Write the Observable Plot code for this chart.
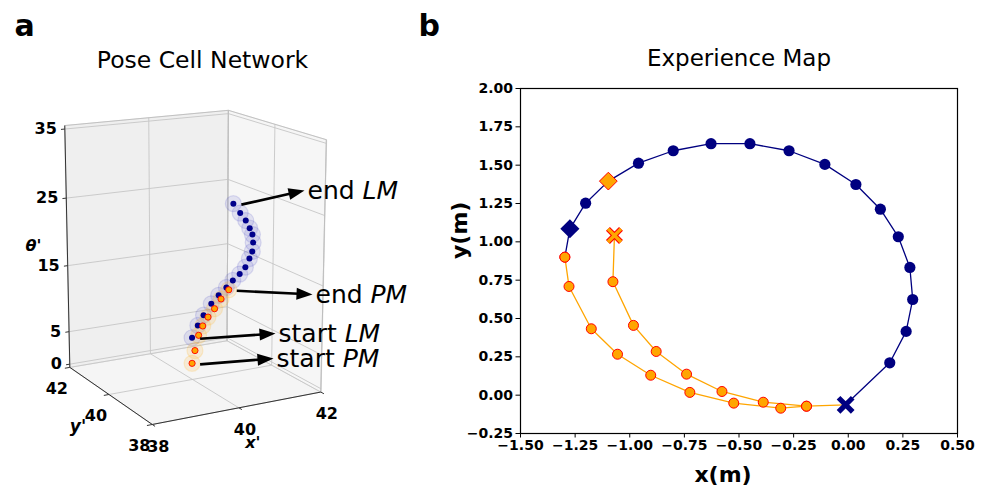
<!DOCTYPE html>
<html><head><meta charset="utf-8">
<script src="https://cdn.jsdelivr.net/npm/d3@7"></script>
<script src="https://cdn.jsdelivr.net/npm/@observablehq/plot@0.6"></script>
<style>
body{margin:0;background:#fff;font-family:"DejaVu Sans",sans-serif;}
#wrap{position:relative;width:988px;height:486px;overflow:hidden;}
#pa,#pb{position:absolute;top:0;}
#pa{left:0}
#pb{left:412px}
</style></head><body><div id="wrap"><div id="pa"></div><div id="pb"></div></div>
<script>
// ---------- Panel a: pose cell network (3D) ----------
const lmXp = [39.99, 40.13, 40.27, 40.46, 40.64, 40.83, 40.99, 41.16, 41.30, 41.40, 41.47, 41.49, 41.47, 41.40, 41.30, 41.16, 40.99];
const lmYp = [40, 40, 40, 40, 40, 40, 40, 40, 40, 40, 40, 40, 40, 40, 40, 40, 40];
const lmTh = [5.8, 7.5, 8.9, 10.4, 11.5, 12.5, 13.4, 14.2, 15.1, 16.3, 17.3, 18.6, 19.8, 20.8, 22.0, 23.2, 24.7];
const pmXp = [39.99, 40.06, 40.15, 40.25, 40.38, 40.54, 40.70, 40.89];
const pmYp = [40, 40, 40, 40, 40, 40, 40, 40];
const pmTh = [1.95, 3.8, 6.0, 7.3, 8.5, 9.6, 10.9, 12.1];
const xyTicks3d = [38, 40, 42];
const thTicks3d = [0, 5, 15, 25, 35];
const box = {x: [38, 42], y: [38, 42], z: [-0.5, 35.5]};
const annText = ["end ", "end ", "start ", "start "];
const annItal = ["LM", "PM", "LM", "PM"];

// ---------- Panel b: experience map ----------
const lmPathX = [-0.012, 0.190, 0.265, 0.295, 0.282, 0.229, 0.147, 0.035, -0.107, -0.271, -0.450, -0.628, -0.801, -0.960, -1.098, -1.202, -1.274, -1.297];
const lmPathY = [-0.063, 0.211, 0.416, 0.624, 0.833, 1.033, 1.213, 1.374, 1.505, 1.594, 1.640, 1.640, 1.594, 1.513, 1.396, 1.252, 1.085, 0.900];
const lmKind = ["start", "node", "node", "node", "node", "node", "node", "node", "node", "node", "node", "node", "node", "node", "pmMark", "node", "end", "pmNode"];
const pmOuterX = [-0.012, -0.191, -0.309, -0.524, -0.725, -0.904, -1.056, -1.176, -1.278, -1.297];
const pmOuterY = [-0.063, -0.072, -0.085, -0.052, 0.018, 0.130, 0.267, 0.433, 0.709, 0.900];
const pmInnerX = [-1.070, -1.077, -0.983, -0.879, -0.740, -0.578, -0.389, -0.191];
const pmInnerY = [1.042, 0.740, 0.455, 0.285, 0.137, 0.024, -0.046, -0.072];
const xTicks = [-1.5, -1.25, -1.0, -0.75, -0.5, -0.25, 0.0, 0.25, 0.5];
const yTicks = [-0.25, 0.0, 0.25, 0.5, 0.75, 1.0, 1.25, 1.5, 1.75, 2.0];

// ---------- 3D projection ----------
const view = {azim: -118.5, elev: 15, sxy: 47.2, sz: 7.1, cx: 192, cy: 258, dist: 1600};
function proj(X, Y, Z) {
  const a = view.azim * Math.PI / 180, e = view.elev * Math.PI / 180;
  const xc = (box.x[0] + box.x[1]) / 2, yc = (box.y[0] + box.y[1]) / 2, zc = (box.z[0] + box.z[1]) / 2;
  const wx = (X - xc) * view.sxy, wy = (Y - yc) * view.sxy, wz = (Z - zc) * view.sz;
  const R = -Math.sin(a) * wx + Math.cos(a) * wy;
  const H = -(Math.cos(a) * wx + Math.sin(a) * wy);
  const U = wz * Math.cos(e) + H * Math.sin(e);
  const D = H * Math.cos(e) - wz * Math.sin(e);
  const f = view.dist / (view.dist + D);
  return [view.cx + R * f, view.cy - U * f];
}
const [x0, x1] = box.x, [y0, y1] = box.y, [z0, z1] = box.z;
const panes = [];
function addPane(name, fill, pts) { pts.forEach((p, i) => { const [px, py] = proj(...p); panes.push({name, fill, i, px, py}); }); }
addPane("floor", "#f5f5f5", [[x0, y0, z0], [x1, y0, z0], [x1, y1, z0], [x0, y1, z0]]);
addPane("wallY", "#efefef", [[x0, y1, z0], [x1, y1, z0], [x1, y1, z1], [x0, y1, z1]]);
addPane("wallX", "#f6f6f6", [[x1, y0, z0], [x1, y1, z0], [x1, y1, z1], [x1, y0, z1]]);

function seg(p, q) { const a = proj(...p), b = proj(...q); return {x1: a[0], y1: a[1], x2: b[0], y2: b[1]}; }
const grid = [];
xyTicks3d.forEach(t => {
  grid.push(seg([t, y0, z0], [t, y1, z0]));
  grid.push(seg([t, y1, z0], [t, y1, z1]));
  grid.push(seg([x0, t, z0], [x1, t, z0]));
  grid.push(seg([x1, t, z0], [x1, t, z1]));
});
thTicks3d.forEach(t => {
  grid.push(seg([x0, y1, t], [x1, y1, t]));
  grid.push(seg([x1, y0, t], [x1, y1, t]));
});
const edges = [
  seg([x0, y1, z1], [x1, y1, z1]), seg([x1, y1, z1], [x1, y0, z1]), seg([x1, y0, z0], [x1, y0, z1]),
  seg([x1, y1, z0], [x1, y1, z1])
];
const axes3 = [
  seg([x0, y1, z0], [x0, y1, z1]), seg([x0, y0, z0], [x0, y1, z0]), seg([x0, y0, z0], [x1, y0, z0])
];
const ticks3 = [];
thTicks3d.forEach(t => ticks3.push(seg([x0, y1, t], [x0 - 0.09, y1, t])));
xyTicks3d.forEach(t => { ticks3.push(seg([t, y0, z0], [t, y0 - 0.12, z0])); ticks3.push(seg([x0, t, z0], [x0 - 0.12, t, z0])); });

const thLabels = thTicks3d.map(t => { const [px, py] = proj(x0, y1, t); return {px: px - 8, py, t}; });
const yLabels = xyTicks3d.map(t => { const [px, py] = proj(x0, t, z0); return {px: px - 13, py: py + 21, t}; });
const xLabels = xyTicks3d.map(t => { const [px, py] = proj(t, y0, z0); return {px: px + 6, py: py + 22, t}; });
const midZ = proj(x0, y1, (z0 + z1) / 2), midY = proj(x0, (y0 + y1) / 2, z0), midX = proj((x0 + x1) / 2, y0, z0);

const lm3 = lmXp.map((v, i) => { const [px, py] = proj(v, lmYp[i], lmTh[i]); return {px, py}; });
const pm3 = pmXp.map((v, i) => { const [px, py] = proj(v, pmYp[i], pmTh[i]); return {px, py}; });

// annotations: text anchors (layout) and arrow tails from the data points
const annPos = [[307, 190], [315, 294], [278, 333], [276, 358]];
const annPts = [lm3[lm3.length - 1], pm3[pm3.length - 1], lm3[0], pm3[0]];
const headLen = 16;
const arrowHead = {draw(c) { c.moveTo(0, 0); c.lineTo(-6, headLen); c.lineTo(6, headLen); c.closePath(); }};
const arrows = annPos.map(([tx, ty], i) => {
  const sx = annPts[i].px + 8, sy = annPts[i].py + 1;
  const ex = tx - 3, ey = ty;
  const L = Math.hypot(ex - sx, ey - sy), ux = (ex - sx) / L, uy = (ey - sy) / L;
  return {sx, sy, bx: ex - ux * (headLen - 2), by: ey - uy * (headLen - 2), hx: ex, hy: ey,
          rot: Math.atan2(uy, ux) * 180 / Math.PI + 90};
});
const annSize = 25;
const ctx = document.createElement("canvas").getContext("2d");
ctx.font = annSize + "px 'DejaVu Sans'";
const ann = annPos.map(([tx, ty], i) => ({tx, ty, a: annText[i], b: annItal[i], w: ctx.measureText(annText[i]).width}));

const pa = Plot.plot({
  width: 412, height: 486, margin: 0,
  x: {type: "identity", axis: null}, y: {type: "identity", axis: null},
  style: {fontFamily: "DejaVu Sans", background: "white", color: "black"},
  marks: [
    Plot.line(panes, {x: "px", y: "py", z: "name", fill: "fill", stroke: "#e0e0e0", strokeWidth: 0.8, curve: "linear-closed"}),
    Plot.link(grid, {x1: "x1", y1: "y1", x2: "x2", y2: "y2", stroke: "#c6c6c6", strokeWidth: 0.9}),
    Plot.link(edges, {x1: "x1", y1: "y1", x2: "x2", y2: "y2", stroke: "#bdbdbd", strokeWidth: 0.9}),
    Plot.link(axes3, {x1: "x1", y1: "y1", x2: "x2", y2: "y2", stroke: "#333", strokeWidth: 1}),
    Plot.link(ticks3, {x1: "x1", y1: "y1", x2: "x2", y2: "y2", stroke: "#333", strokeWidth: 1}),
    Plot.text(thLabels, {x: "px", y: "py", text: d => String(d.t), textAnchor: "end", fontSize: 16, fontWeight: "bold"}),
    Plot.text(yLabels, {x: "px", y: "py", text: d => String(d.t), fontSize: 16, fontWeight: "bold"}),
    Plot.text(xLabels, {x: "px", y: "py", text: d => String(d.t), fontSize: 16, fontWeight: "bold"}),
    Plot.text([{px: midZ[0] - 34, py: midZ[1] - 3}], {x: "px", y: "py", text: () => "θ'", fontSize: 16, fontWeight: "bold", fontStyle: "italic"}),
    Plot.text([{px: midY[0] - 31, py: midY[1] + 32}], {x: "px", y: "py", text: () => "y'", fontSize: 17, fontWeight: "bold", fontStyle: "italic"}),
    Plot.text([{px: midX[0] + 14, py: midX[1] + 35}], {x: "px", y: "py", text: () => "x'", fontSize: 16, fontWeight: "bold", fontStyle: "italic"}),
    // halos
    Plot.dot(lm3, {x: "px", y: "py", r: 8, fill: "#4a4ac8", fillOpacity: 0.12, stroke: "#4a4ac8", strokeOpacity: 0.16, strokeWidth: 1.2}),
    Plot.dot(pm3, {x: "px", y: "py", r: 8, fill: "#ffb733", fillOpacity: 0.16, stroke: "#ffb733", strokeOpacity: 0.2, strokeWidth: 1.2}),
    Plot.dot(lm3, {x: "px", y: "py", r: 3, fill: "#00008b", stroke: "none"}),
    Plot.dot(pm3, {x: "px", y: "py", r: 3.1, fill: "orange", stroke: "red", strokeWidth: 0.9}),
    // arrows
    Plot.link(arrows, {x1: "sx", y1: "sy", x2: "bx", y2: "by", stroke: "black", strokeWidth: 2.6}),
    Plot.dot(arrows, {x: "hx", y: "hy", symbol: arrowHead, r: 6, rotate: "rot", fill: "black", stroke: "none"}),
    Plot.text(ann, {x: "tx", y: "ty", text: "a", textAnchor: "start", fontSize: annSize}),
    Plot.text(ann, {x: d => d.tx + d.w, y: "ty", text: "b", textAnchor: "start", fontSize: annSize, fontStyle: "italic"}),
    // titles
    Plot.text([0], {x: () => 202, y: () => 59.5, text: () => "Pose Cell Network", fontSize: 23.5}),
    Plot.text([0], {x: () => 14, y: () => 25.5, text: () => "a", textAnchor: "start", fontSize: 30, fontWeight: "bold"})
  ]
});
document.getElementById("pa").appendChild(pa);

// ---------- Panel b plot ----------
const lmPts = lmPathX.map((x, i) => ({x, y: lmPathY[i], kind: lmKind[i]}));
const pmOuter = pmOuterX.map((x, i) => ({x, y: pmOuterY[i], i}));
const pmInner = pmInnerX.map((x, i) => ({x, y: pmInnerY[i], i}));
const fmt = d3.format(".2f");
const pb = Plot.plot({
  width: 576, height: 486, marginLeft: 108, marginRight: 31, marginTop: 88, marginBottom: 53,
  style: {fontFamily: "DejaVu Sans", fontSize: "14px", fontWeight: "bold", background: "white", color: "black"},
  x: {domain: [-1.5, 0.5]}, y: {domain: [-0.25, 2.0]},
  marks: [
    Plot.axisX({ticks: xTicks, tickFormat: fmt, tickSize: 4.5, tickPadding: 2, label: null, fontSize: 14, fontWeight: "bold"}),
    Plot.axisY({ticks: yTicks, tickFormat: fmt, tickSize: 4.5, tickPadding: 3, label: null, fontSize: 14, fontWeight: "bold"}),
    Plot.line(pmOuter, {x: "x", y: "y", stroke: "orange", strokeWidth: 1.3}),
    Plot.line(pmInner, {x: "x", y: "y", stroke: "orange", strokeWidth: 1.3}),
    Plot.line(lmPts, {x: "x", y: "y", stroke: "#000080", strokeWidth: 1.3}),
    Plot.dot(lmPts.filter(d => d.kind === "node"), {x: "x", y: "y", r: 5.6, fill: "#000080", stroke: "none"}),
    Plot.dot(pmOuter.filter(d => d.i > 0), {x: "x", y: "y", r: 5, fill: "orange", stroke: "red", strokeWidth: 1}),
    Plot.dot(pmInner.filter(d => d.i > 0), {x: "x", y: "y", r: 5, fill: "orange", stroke: "red", strokeWidth: 1}),
    Plot.dot(lmPts.filter(d => d.kind === "pmNode"), {x: "x", y: "y", r: 5, fill: "orange", stroke: "red", strokeWidth: 1}),
    Plot.dot(lmPts.filter(d => d.kind === "end"), {x: "x", y: "y", symbol: "diamond2", r: 8.6, fill: "#000080", stroke: "none"}),
    Plot.dot(lmPts.filter(d => d.kind === "pmMark"), {x: "x", y: "y", symbol: "diamond2", r: 8, fill: "orange", stroke: "red", strokeWidth: 1}),
    Plot.dot(lmPts.filter(d => d.kind === "start"), {x: "x", y: "y", symbol: "times", r: 6.5, stroke: "#000080", strokeWidth: 5.2}),
    Plot.dot(pmInner.filter(d => d.i === 0), {x: "x", y: "y", symbol: "times", r: 6, stroke: "red", strokeWidth: 5.6}),
    Plot.dot(pmInner.filter(d => d.i === 0), {x: "x", y: "y", symbol: "times", r: 6, stroke: "orange", strokeWidth: 3.4}),
    Plot.frame({stroke: "black", strokeWidth: 1.2}),
    Plot.text([0], {frameAnchor: "top", dy: -29.5, lineAnchor: "middle", text: () => "Experience Map", fontSize: 23, fontWeight: "normal"}),
    Plot.text([0], {frameAnchor: "bottom", dy: 41, dx: -16, lineAnchor: "middle", text: () => "x(m)", fontSize: 22, fontWeight: "bold"}),
    Plot.text([0], {frameAnchor: "left", dx: -61, dy: -2, rotate: -90, lineAnchor: "middle", text: () => "y(m)", fontSize: 22, fontWeight: "bold"}),
    Plot.text([0], {frameAnchor: "top-left", dx: -102, dy: -62.5, lineAnchor: "middle", text: () => "b", textAnchor: "start", fontSize: 30, fontWeight: "bold"})
  ]
});
document.getElementById("pb").appendChild(pb);
</script>
</body></html>
